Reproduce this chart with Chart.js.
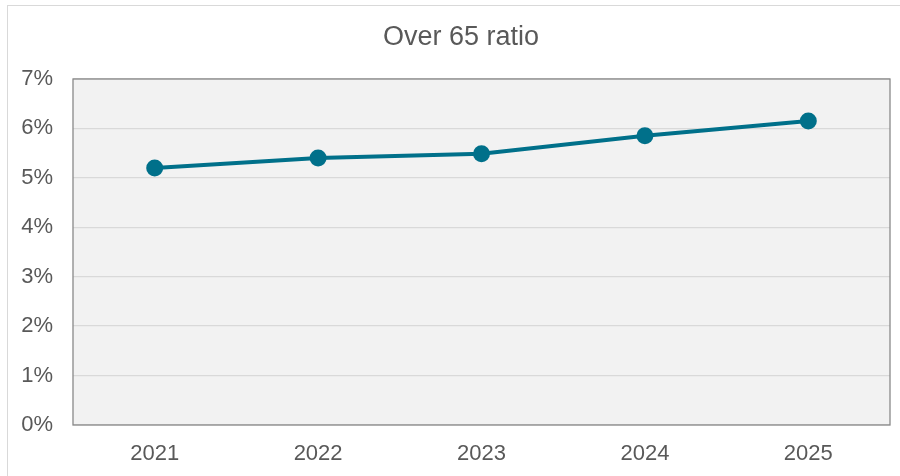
<!DOCTYPE html>
<html>
<head>
<meta charset="utf-8">
<script src="https://cdn.jsdelivr.net/npm/chart.js@4/dist/chart.umd.min.js"></script>
<style>
html,body{margin:0;padding:0;background:#fff;}
#c{display:block;}
</style>
</head>
<body>
<canvas id="c" width="900" height="476"></canvas>
<script>
const categories = ['2021', '2022', '2023', '2024', '2025'];
const over65Ratio = [5.20, 5.40, 5.49, 5.85, 6.15];
const yTicks = [0, 1, 2, 3, 4, 5, 6, 7];
const chartTitle = 'Over 65 ratio';

const frame = {
  id: 'frame',
  afterLayout(chart) {
    if (chart.titleBlock) { chart.titleBlock.left += 32; }
  },
  beforeDraw(chart) {
    const ctx = chart.ctx, a = chart.chartArea;
    ctx.save();
    ctx.fillStyle = '#ffffff';
    ctx.fillRect(0, 0, chart.width, chart.height);
    ctx.strokeStyle = '#d9d9d9';
    ctx.lineWidth = 1;
    ctx.strokeRect(7.5, 5.5, chart.width + 10, chart.height + 10);
    ctx.fillStyle = '#f2f2f2';
    ctx.fillRect(a.left, a.top, a.right - a.left, a.bottom - a.top);
    ctx.restore();
  },
  beforeDatasetsDraw(chart) {
    const ctx = chart.ctx, a = chart.chartArea;
    ctx.save();
    ctx.strokeStyle = '#898989';
    ctx.lineWidth = 1.3;
    ctx.strokeRect(a.left, a.top, a.right - a.left, a.bottom - a.top);
    ctx.restore();
  }
};

new Chart(document.getElementById('c'), {
  type: 'line',
  data: {
    labels: categories,
    datasets: [{
      data: over65Ratio,
      borderColor: '#00708a',
      backgroundColor: '#00708a',
      borderWidth: 4,
      pointRadius: 8.5,
      pointHoverRadius: 8.5,
      pointBorderWidth: 0,
      pointBackgroundColor: '#00708a',
      tension: 0
    }]
  },
  options: {
    responsive: false,
    animation: false,
    devicePixelRatio: 1,
    layout: { padding: { left: 0, right: 10, top: 0, bottom: 0 } },
    plugins: {
      legend: { display: false },
      tooltip: { enabled: false },
      title: {
        display: true,
        text: chartTitle,
        color: '#595959',
        font: { family: 'Liberation Sans, Arial, sans-serif', size: 27, weight: 'normal' },
        padding: { top: 21, bottom: 25.6 }
      }
    },
    scales: {
      x: {
        offset: true,
        grid: { display: false, drawTicks: false },
        border: { display: false },
        ticks: {
          color: '#595959',
          font: { family: 'Liberation Sans, Arial, sans-serif', size: 22 },
          padding: 16
        },
        afterFit(s) { s.height = 51; }
      },
      y: {
        min: 0,
        max: 7,
        afterBuildTicks(s) { s.ticks = yTicks.map(v => ({ value: v })); },
        grid: { color: '#d9d9d9', lineWidth: 1.3, drawTicks: false },
        border: { display: false },
        ticks: {
          color: '#595959',
          font: { family: 'Liberation Sans, Arial, sans-serif', size: 22 },
          padding: 20,
          callback: v => v + '%'
        },
        afterFit(s) { s.width = 73; }
      }
    }
  },
  plugins: [frame]
});
</script>
</body>
</html>
